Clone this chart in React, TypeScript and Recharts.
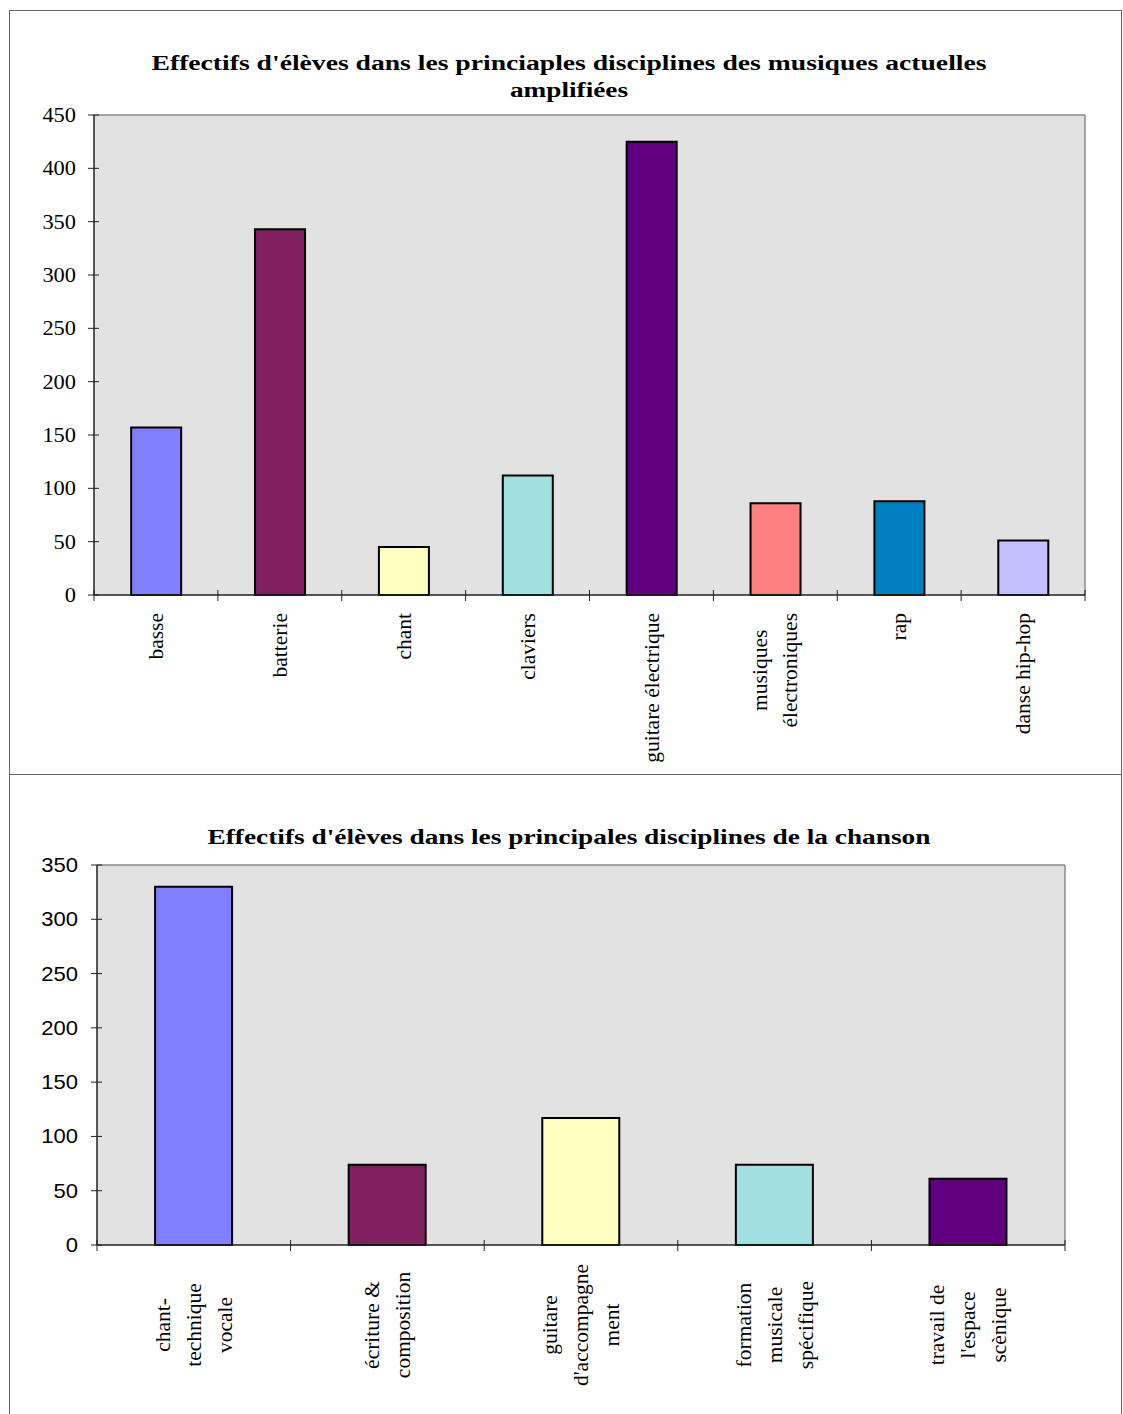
import React from "react";
import { BarChart, Bar, XAxis, YAxis, CartesianGrid, Cell } from "recharts";

// Musiques actuelles amplifiées
const musiqueCategories = [
  "basse",
  "batterie",
  "chant",
  "claviers",
  "guitare électrique",
  "musiques\nélectroniques",
  "rap",
  "danse hip-hop",
];
const musiqueValues = [157, 343, 45, 112, 425, 86, 88, 51];
const musiqueTicks = [0, 50, 100, 150, 200, 250, 300, 350, 400, 450];

// Chanson
const chansonCategories = [
  "chant-\ntechnique\nvocale",
  "écriture &\ncomposition",
  "guitare\nd'accompagne\nment",
  "formation\nmusicale\nspécifique",
  "travail de\nl'espace\nscènique",
];
const chansonValues = [330, 74, 117, 74, 61];
const chansonTicks = [0, 50, 100, 150, 200, 250, 300, 350];

const palette = ["#8080FF", "#802060", "#FFFFC0", "#A0E0E0", "#600080", "#FF8080", "#0080C0", "#C0C0FF"];

const SERIF = '"Liberation Serif", "Times New Roman", serif';
const SANS = '"Liberation Sans", Arial, sans-serif';

let measureCtx: CanvasRenderingContext2D | null = null;
function textWidth(s: string, font: string) {
  if (!measureCtx) measureCtx = document.createElement("canvas").getContext("2d");
  if (!measureCtx) return s.length * 10;
  measureCtx.font = font;
  return measureCtx.measureText(s).width;
}

// x labels: rotated, wrapped lines side by side, tick marks between categories
function CategoryTick(props: any) {
  const { x, y, payload, index, width, visibleTicksCount, labelTop, labelCenter, lineGap, fontSize } = props;
  const half = payload.offset ?? width / visibleTicksCount / 2;
  const lines = String(payload.value).split("\n");
  const longest = Math.max(...lines.map((l) => textWidth(l, `${fontSize}px ${SERIF}`)));
  const cy = labelCenter != null ? y + labelCenter : y + labelTop + longest / 2;
  return (
    <g>
      {index === 0 && <line x1={x - half} x2={x - half} y1={y - 5} y2={y + 6} stroke="#222" />}
      <line x1={x + half} x2={x + half} y1={y - 5} y2={y + 6} stroke="#222" />
      {lines.map((l, i) => {
        const cx = x + (i - (lines.length - 1) / 2) * lineGap;
        return (
          <text
            key={i}
            x={cx}
            y={cy}
            dy="0.33em"
            transform={`rotate(-90 ${cx} ${cy})`}
            textAnchor="middle"
            fontFamily={SERIF}
            fontSize={fontSize}
            fill="#000"
          >
            {l}
          </text>
        );
      })}
    </g>
  );
}

function ValueTick(props: any) {
  const { x, y, payload, fontFamily, fontSize, gap, stretch } = props;
  return (
    <g>
      <line x1={x - 6} x2={x + 5} y1={y} y2={y} stroke="#222" />
      <g transform={`translate(${x - gap} ${y}) scale(${stretch} 1)`}>
        <text textAnchor="end" dy="0.35em" fontFamily={fontFamily} fontSize={fontSize} fill="#000">
          {payload.value}
        </text>
      </g>
    </g>
  );
}

const topBorder = ({ offset }: any) => [offset.top];
const rightBorder = ({ offset }: any) => [offset.left + offset.width];

export default function App() {
  const musiqueData = musiqueCategories.map((name, i) => ({ name, value: musiqueValues[i] }));
  const chansonData = chansonCategories.map((name, i) => ({ name, value: chansonValues[i] }));

  return (
    <div style={{ position: "absolute", left: 0, top: 0, width: 1123, height: 1414, background: "#fff" }}>
      <svg width={1123} height={1414} style={{ position: "absolute", left: 0, top: 0 }}>
        <line x1={9.5} x2={9.5} y1={10} y2={1414} stroke="#666" />
        <line x1={1121.5} x2={1121.5} y1={10} y2={1414} stroke="#666" />
        <line x1={9} x2={1122} y1={10.5} y2={10.5} stroke="#666" />
        <line x1={9} x2={1122} y1={774.5} y2={774.5} stroke="#666" />
        <text x={569} y={70} textAnchor="middle" fontFamily={SERIF} fontWeight="bold" fontSize={20}
          textLength={835} lengthAdjust="spacingAndGlyphs">
          Effectifs d'élèves dans les princiaples disciplines des musiques actuelles
        </text>
        <text x={569} y={97} textAnchor="middle" fontFamily={SERIF} fontWeight="bold" fontSize={20}
          textLength={118} lengthAdjust="spacingAndGlyphs">
          amplifiées
        </text>
        <text x={569} y={844} textAnchor="middle" fontFamily={SERIF} fontWeight="bold" fontSize={20}
          textLength={723} lengthAdjust="spacingAndGlyphs">
          Effectifs d'élèves dans les principales disciplines de la chanson
        </text>
      </svg>

      <div style={{ position: "absolute", left: 0, top: 0 }}>
        <BarChart width={1123} height={774} data={musiqueData} barCategoryGap="30%"
          margin={{ top: 115, right: 38, bottom: 9, left: 0 }}>
          <CartesianGrid fill="#E2E2E2" fillOpacity={1} stroke="#8a8a8a" strokeWidth={1.5}
            horizontalCoordinatesGenerator={topBorder} verticalCoordinatesGenerator={rightBorder} />
          <XAxis dataKey="name" interval={0} height={170} tickLine={false} tickSize={0} tickMargin={0}
            axisLine={{ stroke: "#222", strokeWidth: 1.5 }}
            tick={(p: any) => <CategoryTick {...p} labelTop={18} lineGap={30} fontSize={21.5} />} />
          <YAxis width={94} domain={[0, 450]} ticks={musiqueTicks} interval={0} tickLine={false}
            tickSize={0} tickMargin={0} axisLine={{ stroke: "#222", strokeWidth: 1.5 }}
            tick={(p: any) => <ValueTick {...p} fontFamily={SERIF} fontSize={20} gap={18} stretch={1.12} />} />
          <Bar dataKey="value" stroke="#000" strokeWidth={2} isAnimationActive={false}>
            {musiqueData.map((d, i) => (
              <Cell key={d.name} fill={palette[i]} />
            ))}
          </Bar>
        </BarChart>
      </div>

      <div style={{ position: "absolute", left: 0, top: 774 }}>
        <BarChart width={1123} height={640} data={chansonData} barCategoryGap="30%"
          margin={{ top: 91, right: 58, bottom: 9, left: 0 }}>
          <CartesianGrid fill="#E2E2E2" fillOpacity={1} stroke="#8a8a8a" strokeWidth={1.5}
            horizontalCoordinatesGenerator={topBorder} verticalCoordinatesGenerator={rightBorder} />
          <XAxis dataKey="name" interval={0} height={160} tickLine={false} tickSize={0} tickMargin={0}
            axisLine={{ stroke: "#222", strokeWidth: 1.5 }}
            tick={(p: any) => <CategoryTick {...p} labelCenter={80} lineGap={31} fontSize={21.5} />} />
          <YAxis width={97} domain={[0, 350]} ticks={chansonTicks} interval={0} tickLine={false}
            tickSize={0} tickMargin={0} axisLine={{ stroke: "#222", strokeWidth: 1.5 }}
            tick={(p: any) => <ValueTick {...p} fontFamily={SANS} fontSize={20} gap={19} stretch={1.1} />} />
          <Bar dataKey="value" stroke="#000" strokeWidth={2} isAnimationActive={false}>
            {chansonData.map((d, i) => (
              <Cell key={d.name} fill={palette[i]} />
            ))}
          </Bar>
        </BarChart>
      </div>
    </div>
  );
}
